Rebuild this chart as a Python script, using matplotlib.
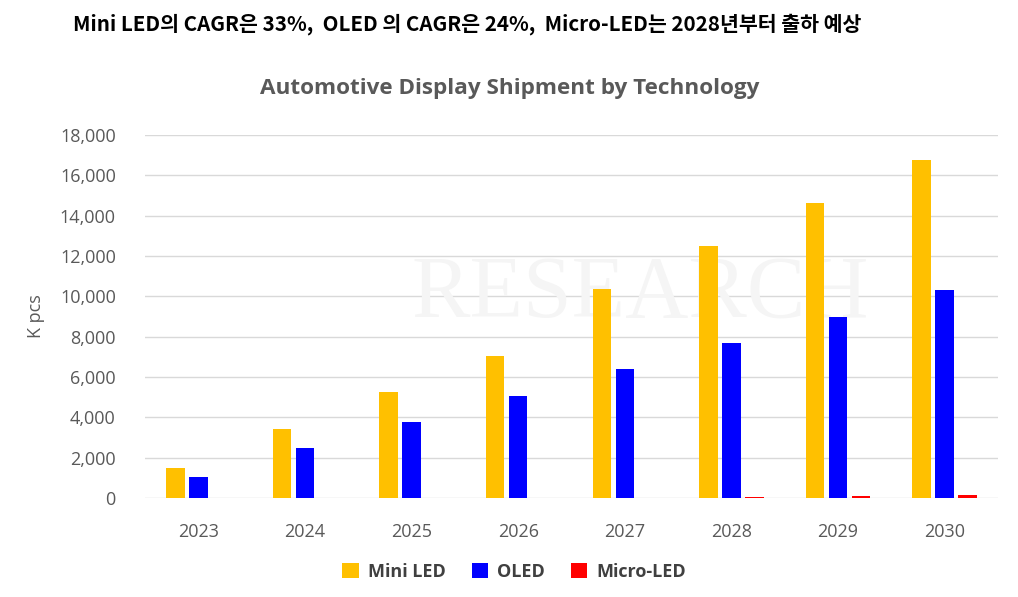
import matplotlib
matplotlib.use("Agg")
import matplotlib.pyplot as plt
import numpy as np
from matplotlib.patches import Patch

years = ["2023", "2024", "2025", "2026", "2027", "2028", "2029", "2030"]
mini_led = [1480, 3400, 5240, 7020, 10380, 12480, 14610, 16750]
oled = [1060, 2460, 3790, 5060, 6400, 7690, 9000, 10310]
micro_led = [0, 0, 0, 0, 0, 30, 80, 170]
series_names = ["Mini LED", "OLED", "Micro-LED"]
colors = ["#FFC000", "#0000FF", "#FF0000"]
yticks = [0, 2000, 4000, 6000, 8000, 10000, 12000, 14000, 16000, 18000]

fig = plt.figure(figsize=(10.18, 5.97), dpi=100)
ax = fig.add_axes([145/1018, 1-498/597, (998-145)/1018, (498-135)/597])

x = np.arange(len(years))
step = 0.216
width = 0.174
for i, (vals, c) in enumerate(zip([mini_led, oled, micro_led], colors)):
    ax.bar(x + (i - 1) * step, vals, width=width, color=c, zorder=3)

ax.set_xlim(-0.5, len(years) - 0.5)
ax.set_ylim(0, 18000)
ax.set_yticks(yticks)
ax.set_yticklabels([f"{v:,}" for v in yticks])
ax.set_xticks(x)
ax.set_xticklabels(years)
ax.grid(axis="y", color="#d9d9d9", linewidth=1, zorder=0)
ax.set_axisbelow(True)
for s in ax.spines.values():
    s.set_visible(False)
ax.tick_params(axis="both", length=0, colors="#595959", labelsize=13)
ax.tick_params(axis="y", pad=21)
ax.tick_params(axis="x", pad=18)
for lab in ax.get_xticklabels() + ax.get_yticklabels():
    lab.set_family("Open Sans")
ax.set_ylabel("K pcs", fontsize=13, color="#595959", family="Open Sans")
ax.yaxis.set_label_coords(-0.117, 0.5)

# faint watermark (behind bars)
ax.text(640, 302, "RESEARCH", fontsize=63, family="Liberation Serif",
        color="#f5f5f5", ha="center", va="center", zorder=1,
        transform=None)

fig.text(510/1018, 1-89/597, "Automotive Display Shipment by Technology",
         fontsize=16.2, fontweight="bold", color="#595959", family="Open Sans",
         ha="center", va="center")

fig.text(73/1018, 1-24/597,
         "Mini LED의 CAGR은 33%,  OLED 의 CAGR은 24%,  Micro-LED는 2028년부터 출하 예상",
         fontsize=14.8, fontweight="bold", color="black",
         family=["Noto Sans CJK KR", "DejaVu Sans"], ha="left", va="center")

handles = [Patch(facecolor=c, edgecolor="none") for c in colors]
leg = fig.legend(handles, series_names, loc="center", bbox_to_anchor=(514/1018, 1-572/597),
                 ncol=3, frameon=False, handlelength=0.9, handleheight=0.9,
                 handletextpad=0.5, columnspacing=1.45,
                 prop={"family": "Open Sans", "weight": "bold", "size": 13})
for t in leg.get_texts():
    t.set_color("#404040")

fig.savefig("out.png", dpi=100)
